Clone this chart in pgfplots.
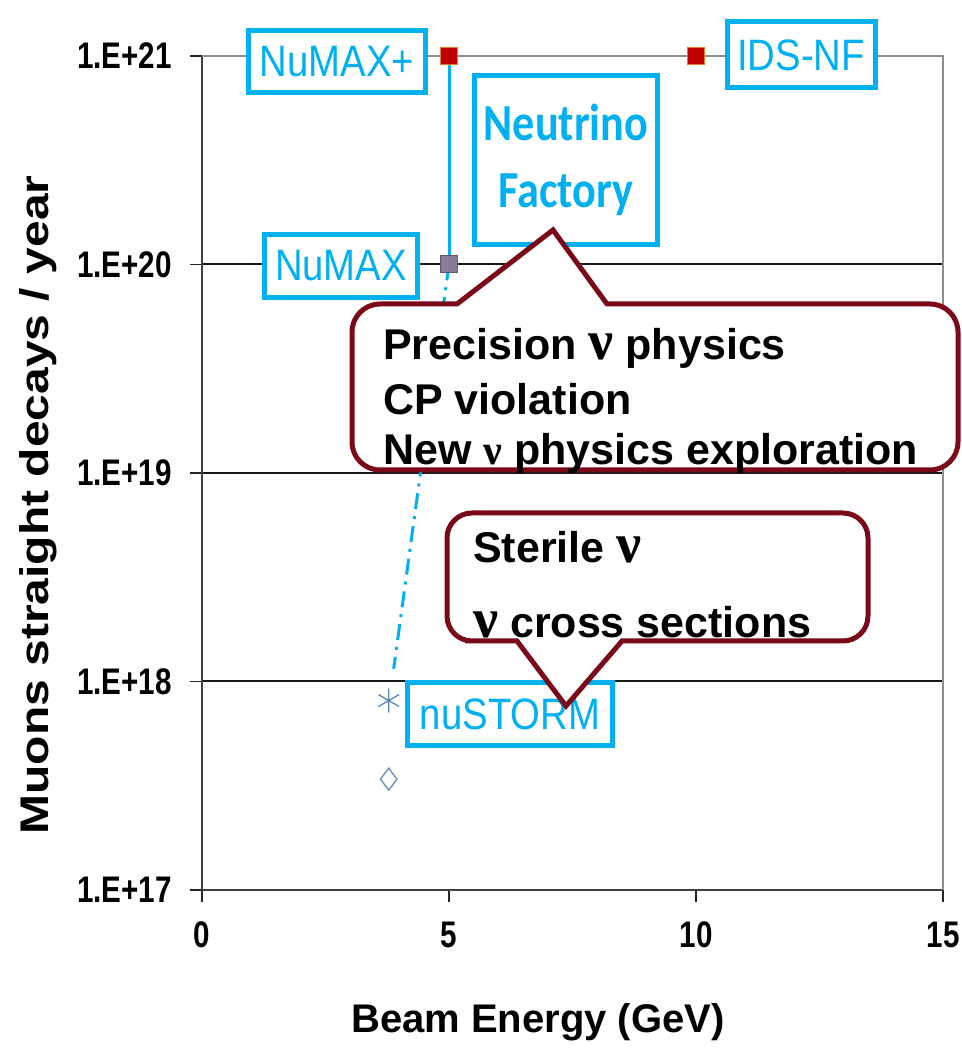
\documentclass[border=0pt]{standalone}
\usepackage{fontspec}
\setmainfont{Liberation Sans}
\newfontfamily\tickfont{Liberation Sans}[FakeStretch=0.8]
\newfontfamily\labfont{Liberation Sans}[FakeStretch=0.87]
\newfontfamily\calfont{Carlito}[FakeStretch=0.85]
\newfontfamily\greekfont{Liberation Serif}
\usepackage{pgfplots}
\pgfplotsset{compat=1.18}
\definecolor{cyanbox}{HTML}{00B0F0}
\definecolor{callred}{HTML}{7A0A1A}
\definecolor{sqred}{HTML}{C00000}
\definecolor{sqedge}{HTML}{E87A2C}
\definecolor{numax}{HTML}{8A7A9A}
\definecolor{storm}{HTML}{5B84B1}
\begin{document}
\begin{tikzpicture}
\path[use as bounding box] (0,0) rectangle (961pt,1052pt);
\begin{axis}[
  at={(202pt,162pt)}, anchor=south west,
  scale only axis, width=741pt, height=834pt,
  xmin=0, xmax=15, ymin=1e17, ymax=1e21, ymode=log,
  xtick={0,5,10,15}, xticklabels={0,5,10,15},
  ytick={1e17,1e18,1e19,1e20,1e21},
  yticklabels={1.E+17,1.E+18,1.E+19,1.E+20,1.E+21},
  yminorticks=false,
  axis lines*=left,
  axis line style={black!75, line width=2pt},
  ymajorgrids, grid style={black!90, line width=2pt},
  tick align=outside, major tick length=12pt,
  tick style={black!85, line width=1.8pt},
  ticklabel style={font=\fontsize{37}{40}\tickfont\bfseries, inner sep=0pt},
  yticklabel style={anchor=east, xshift=-18pt},
  xticklabel style={anchor=north, yshift=-20pt},
  clip=false,
]
\draw[black!45, line width=1.5pt] (rel axis cs:0,1) -- (rel axis cs:1,1) -- (rel axis cs:1,0);
\addplot[only marks, mark=square*, mark size=8.5pt, mark options={fill=numax, draw=numax!70!black, line width=1pt}] coordinates {(5,1e20)};
\addplot[cyanbox, line width=3pt] coordinates {(5,1e21) (5,1e20)};
\addplot[cyanbox, line width=3pt, dash pattern=on 16pt off 7pt on 3pt off 7pt] coordinates {(5,1e20) (3.88,1.15e18)};
\addplot[only marks, mark=square*, mark size=8.5pt, mark options={fill=sqred, draw=sqedge, line width=1pt}] coordinates {(5,1e21) (10,1e21)};
\addplot[only marks, mark=asterisk, mark size=12pt, storm, line width=1.3pt] coordinates {(3.78,8.1e17)};
\addplot[only marks, mark=diamond, mark size=11pt, storm!85, line width=1.5pt] coordinates {(3.78,3.4e17)};
\end{axis}
\begin{scope}[x=1pt, y=-1pt, yshift=1052pt]
% axis titles
\node[rotate=90, inner sep=0pt] at (38,505) {\scalebox{1.2}[1]{\fontsize{40}{40}\selectfont\bfseries Muons straight decays / year}};
\node[font=\fontsize{40}{40}\selectfont\bfseries] at (538,1022) {Beam Energy (GeV)};
% cyan labels
\tikzset{cbox/.style={draw=cyanbox, line width=5pt, fill=white, text=cyanbox, inner sep=0pt, font=\fontsize{44}{44}\labfont}}
\node[cbox, minimum width=177pt, minimum height=62pt] at (337,61.5) {NuMAX+};
\node[cbox, minimum width=148pt, minimum height=66pt] at (801,55) {IDS-NF};
\node[cbox, minimum width=153pt, minimum height=63pt] at (341,266) {NuMAX};
\node[cbox, minimum width=205pt, minimum height=63pt] at (510,714) {nuSTORM};
\node[cbox, minimum width=183pt, minimum height=169pt, align=center, font=\fontsize{52}{67}\calfont\bfseries] at (566,160) {Neutrino\\Factory};
% callouts
\draw[callred, line width=5pt, fill=white, line join=miter] (457,304) -- (553,230) -- (607,304) -- (650,304) [rounded corners=28pt] -- (958,304) -- (958,470) -- (352,470) -- (352,304) -- (420,304) [sharp corners] -- cycle;
\draw[callred, line width=5pt, fill=white, line join=miter] (517,641) -- (566,706) -- (622,641) -- (660,641) [rounded corners=25pt] -- (868,641) -- (868,513) -- (447,513) -- (447,641) -- (490,641) [sharp corners] -- cycle;
\tikzset{ctext/.style={anchor=base west, inner sep=0pt, font=\fontsize{43}{43}\selectfont\bfseries}}
\node[ctext] at (383,360) {Precision {\greekfont\fontsize{56}{56}\selectfont\bfseries ν} physics};
\node[ctext] at (383,415) {CP violation};
\node[ctext] at (383,465) {New {\greekfont\fontsize{42}{42}\selectfont ν} physics exploration};
\node[ctext] at (473,563) {Sterile {\greekfont\fontsize{56}{56}\selectfont\bfseries ν}};
\node[ctext] at (473,638) {{\greekfont\fontsize{56}{56}\selectfont\bfseries ν} cross sections};
\end{scope}
\end{tikzpicture}
\end{document}
